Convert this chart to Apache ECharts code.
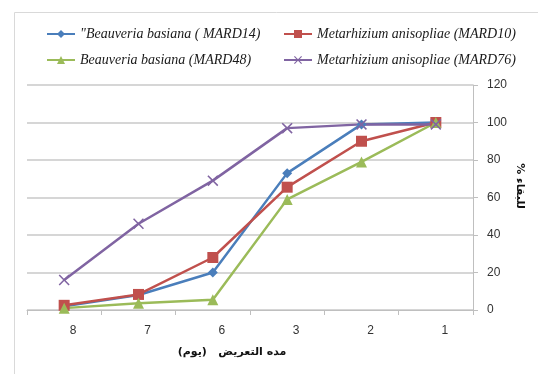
<!DOCTYPE html>
<html>
<head>
<meta charset="utf-8">
<script src="https://cdn.jsdelivr.net/npm/echarts@6/dist/echarts.min.js"></script>
<style>
  html, body { margin: 0; padding: 0; background: #fff; }
  #chart { width: 538px; height: 374px; }
</style>
</head>
<body>
<div id="chart"></div>
<script>
// Exposure period (days), listed as on the axis
const days = ['8', '7', '6', '3', '2', '1'];
const yTicks = [0, 20, 40, 60, 80, 100, 120];

// Survival % per isolate
const mard14 = [2, 8, 20, 73, 99, 100];
const mard10 = [2.5, 8.3, 28, 65.5, 90, 100];
const mard48 = [1, 3.6, 5.5, 59, 79, 100];
const mard76 = [16, 46, 69, 97, 99, 99];

const names = [
  '"Beauveria basiana ( MARD14)',
  'Metarhizium anisopliae (MARD10)',
  'Beauveria basiana (MARD48)',
  'Metarhizium anisopliae (MARD76)'
];

const xName = 'مده التعريض   (يوم)';
const yName = '% للبقاء';

const crossPath = 'path://M0,1L1,0L5,4L9,0L10,1L6,5L10,9L9,10L5,6L1,10L0,9L4,5Z';

const chart = echarts.init(document.getElementById('chart'), null, { renderer: 'canvas' });

const legendText = {
  fontFamily: 'Liberation Serif',
  fontStyle: 'italic',
  fontSize: 14,
  color: '#1a1a1a'
};
function legendAt(name, left, top) {
  return {
    data: [name], left: left, top: top,
    itemWidth: 28, itemHeight: 10,
    textStyle: legendText,
    padding: 0
  };
}

function lineSeries(name, data, color, symbol, size) {
  return {
    name: name, type: 'line', data: data,
    symbol: symbol, symbolSize: size,
    lineStyle: { color: color, width: 2.5 },
    itemStyle: { color: color },
    emphasis: { disabled: true },
    animation: false
  };
}

chart.setOption({
  animation: false,
  legend: [
    legendAt(names[0], 46, 27),
    legendAt(names[1], 283, 27),
    legendAt(names[2], 46, 53),
    legendAt(names[3], 283, 53)
  ],
  grid: { left: 27, right: 65, top: 85, bottom: 64 },
  xAxis: {
    type: 'category',
    data: days,
    boundaryGap: true,
    axisLine: { lineStyle: { color: '#bfbfbf', width: 1 } },
    axisTick: { show: true, length: 5, lineStyle: { color: '#bfbfbf' } },
    axisLabel: {
      color: '#333', fontFamily: 'Liberation Sans', fontSize: 12,
      margin: 15, padding: [0, 0, 0, 18]
    }
  },
  yAxis: {
    type: 'value',
    position: 'right',
    min: yTicks[0], max: yTicks[yTicks.length - 1], interval: 20,
    axisLine: { show: true, lineStyle: { color: '#bfbfbf', width: 1 } },
    axisTick: { show: true, length: 5, lineStyle: { color: '#bfbfbf' } },
    axisLabel: { color: '#333', fontFamily: 'Liberation Sans', fontSize: 12, margin: 14 },
    splitLine: { show: true, lineStyle: { color: '#c8c8c8', width: 1.5 } }
  },
  graphic: [
    {
      type: 'rect', left: 12, top: 10, silent: true,
      shape: { width: 540, height: 380 },
      style: { fill: 'none', stroke: '#d9d9d9', lineWidth: 1 }
    },
    {
      type: 'text', x: 232, y: 352, silent: true,
      style: {
        text: xName, align: 'center', verticalAlign: 'middle',
        font: 'bold 11px "DejaVu Sans"', fill: '#111'
      }
    },
    {
      type: 'text', x: 520, y: 186, rotation: -Math.PI / 2, silent: true,
      style: {
        text: yName, align: 'center', verticalAlign: 'middle',
        font: 'bold 11px "DejaVu Sans"', fill: '#111'
      }
    }
  ],
  series: [
    lineSeries(names[0], mard14, '#4a7ebb', 'diamond', 10),
    lineSeries(names[1], mard10, '#c0504d', 'rect', 11),
    lineSeries(names[2], mard48, '#9bbb59', 'triangle', 11),
    lineSeries(names[3], mard76, '#8064a2', crossPath, 11)
  ]
});
</script>
</body>
</html>
